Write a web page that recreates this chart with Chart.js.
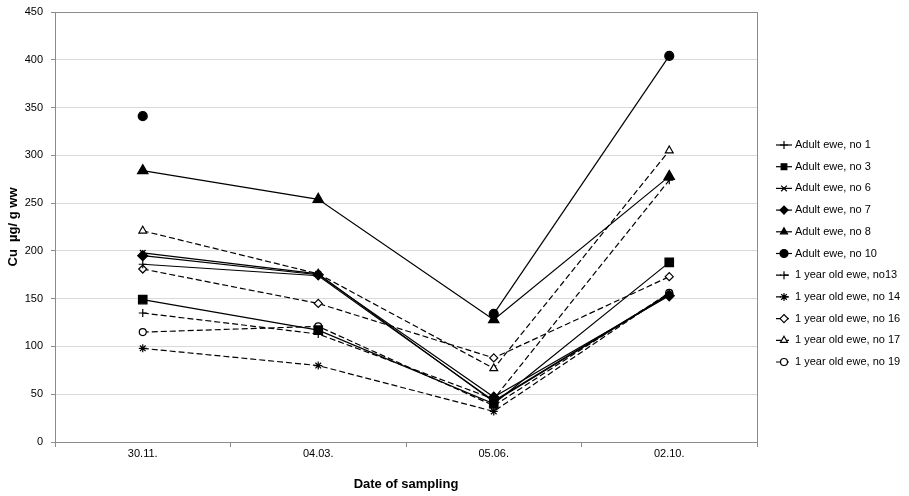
<!DOCTYPE html>
<html>
<head>
<meta charset="utf-8">
<script src="https://cdn.jsdelivr.net/npm/chart.js"></script>
<style>
  html, body { margin: 0; padding: 0; background: #fff; }
  #wrap { width: 909px; height: 496px; position: relative; }
</style>
</head>
<body>
<div id="wrap"><canvas id="cuChart"></canvas></div>
<script>
// sampling dates
var fechas = ['30.11.', '04.03.', '05.06.', '02.10.'];

// Cu values per animal
var adulto1 = [186, 174, 43, 155];
var adulto3 = [149, 117, 40, 188];
var adulto6 = [198, 176, 42, 154];
var adulto7 = [195, 175, 47, 153];
var adulto8 = [284, 254, 128, 278];
var adulto10 = [341, null, 134, 404];
var joven13 = [135, 113, 45, 274];
var joven14 = [98, 80, 32, 156];
var joven16 = [181, 145, 88, 173];
var joven17 = [221, 176, 77, 305];
var joven19 = [115, 121, 38, 156];

var yTicks = [0, 50, 100, 150, 200, 250, 300, 350, 400, 450];

var nombres = ['Adult ewe, no 1', 'Adult ewe, no 3', 'Adult ewe, no 6', 'Adult ewe, no 7',
  'Adult ewe, no 8', 'Adult ewe, no 10', '1 year old ewe, no13', '1 year old ewe, no 14',
  '1 year old ewe, no 16', '1 year old ewe, no 17', '1 year old ewe, no 19'];

function serie(nombre, datos, estilo, radio, relleno, rayas) {
    return {
        label: nombre,
        data: datos,
        borderColor: '#000',
        borderWidth: 1.2,
        borderDash: rayas ? [6, 3] : [],
        pointStyle: estilo,
        pointRadius: radio,
        pointHoverRadius: radio,
        pointBackgroundColor: relleno ? '#000' : '#fff',
        pointBorderColor: '#000',
        pointBorderWidth: 1.2,
        spanGaps: false,
        fill: false,
        tension: 0
    };
}

var series = [
    serie(nombres[0], adulto1, 'cross', 4, true, false),
    serie(nombres[1], adulto3, 'rect', 6, true, false),
    serie(nombres[2], adulto6, 'crossRot', 4, true, false),
    serie(nombres[3], adulto7, 'rectRot', 5, true, false),
    serie(nombres[4], adulto8, 'triangle', 6, true, false),
    serie(nombres[5], adulto10, 'circle', 4.5, true, false),
    serie(nombres[6], joven13, 'cross', 4, false, true),
    serie(nombres[7], joven14, 'star', 4, false, true),
    serie(nombres[8], joven16, 'rectRot', 4, false, true),
    serie(nombres[9], joven17, 'triangle', 4.5, false, true),
    serie(nombres[10], joven19, 'circle', 3.5, false, true)
];

// plot frame + legend drawn by hand (Excel look)
var marcoYLeyenda = {
    id: 'marcoYLeyenda',
    afterDraw: function (chart) {
        var ctx = chart.ctx;
        var a = chart.chartArea;
        ctx.save();
        ctx.strokeStyle = '#8c8c8c';
        ctx.lineWidth = 1;
        ctx.setLineDash([]);
        ctx.strokeRect(Math.round(a.left) + 0.5, Math.round(a.top) + 0.5,
            Math.round(a.right - a.left), Math.round(a.bottom - a.top));

        ctx.font = '11px "Liberation Sans", Arial, sans-serif';
        ctx.textBaseline = 'middle';
        ctx.fillStyle = '#000';
        chart.data.datasets.forEach(function (ds, i) {
            var y = 145 + i * 21.7;
            ctx.strokeStyle = '#000';
            ctx.lineWidth = 1.2;
            ctx.setLineDash(ds.borderDash.length ? [5, 3] : []);
            ctx.beginPath();
            ctx.moveTo(776, y);
            ctx.lineTo(792, y);
            ctx.stroke();
            ctx.setLineDash([]);
            ctx.fillStyle = ds.pointBackgroundColor;
            ctx.strokeStyle = '#000';
            Chart.helpers.drawPoint(ctx, {
                pointStyle: ds.pointStyle,
                radius: Math.min(ds.pointRadius, 4),
                rotation: 0,
                borderWidth: 1.2
            }, 784, y);
            ctx.fillStyle = '#000';
            ctx.fillText(ds.label, 795, y);
        });
        ctx.restore();
    }
};

Chart.defaults.font.family = '"Liberation Sans", Arial, sans-serif';
Chart.defaults.color = '#000';

var ctxCu = document.getElementById('cuChart').getContext('2d');
var cuChart = new Chart(ctxCu, {
    type: 'line',
    data: { labels: fechas, datasets: series },
    options: {
        responsive: true,
        maintainAspectRatio: false,
        animation: false,
        layout: { padding: { top: 12, right: 152, bottom: 0, left: 0 } },
        plugins: {
            legend: { display: false },
            tooltip: { enabled: false }
        },
        scales: {
            x: {
                offset: true,
                grid: { display: true, drawOnChartArea: false, offset: true, tickLength: 5, color: '#8c8c8c' },
                border: { color: '#8c8c8c' },
                ticks: { font: { size: 11 }, padding: 0, maxRotation: 0 },
                title: { display: true, text: 'Date of sampling', font: { size: 13, weight: 'bold' }, padding: { top: 4, bottom: 4 } },
                afterFit: function (s) { s.height = 54; s.paddingLeft = 0; s.paddingRight = 0; }
            },
            y: {
                min: 0,
                max: 450,
                afterBuildTicks: function (s) { s.ticks = yTicks.map(function (v) { return { value: v }; }); },
                grid: { color: '#d9d9d9', tickLength: 4, tickColor: '#8c8c8c' },
                border: { color: '#8c8c8c' },
                ticks: { font: { size: 11 }, padding: 8 },
                title: { display: true, text: 'Cu  µg/ g ww', font: { size: 13, weight: 'bold' }, padding: { top: 6, bottom: 6 } },
                afterFit: function (s) { s.width = 55; s.paddingTop = 0; s.paddingBottom = 0; }
            }
        }
    },
    plugins: [marcoYLeyenda]
});
</script>
</body>
</html>
